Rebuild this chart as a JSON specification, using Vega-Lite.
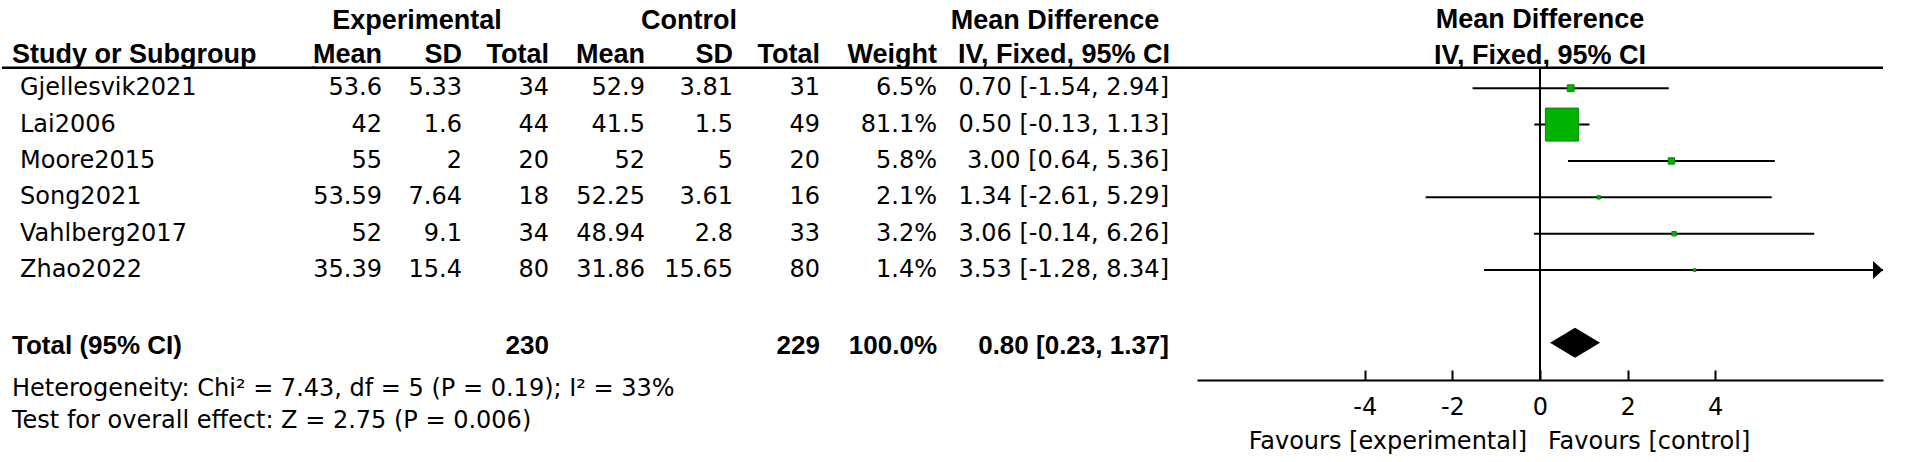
{
  "$schema": "https://vega.github.io/schema/vega-lite/v6.json",
  "padding": 0,
  "background": "white",
  "bounds": "flush",
  "spacing": 0,
  "config": {"view": {"stroke": null}},
  "datasets": {
    "studies": [
      {"row": "Gjellesvik2021", "expMean": 53.6, "expSD": 5.33, "expTotal": 34, "ctrlMean": 52.9, "ctrlSD": 3.81, "ctrlTotal": 31, "weight": 0.065, "md": 0.70, "lo": -1.54, "hi": 2.94, "ci": "0.70 [-1.54, 2.94]"},
      {"row": "Lai2006", "expMean": 42, "expSD": 1.6, "expTotal": 44, "ctrlMean": 41.5, "ctrlSD": 1.5, "ctrlTotal": 49, "weight": 0.811, "md": 0.50, "lo": -0.13, "hi": 1.13, "ci": "0.50 [-0.13, 1.13]"},
      {"row": "Moore2015", "expMean": 55, "expSD": 2, "expTotal": 20, "ctrlMean": 52, "ctrlSD": 5, "ctrlTotal": 20, "weight": 0.058, "md": 3.00, "lo": 0.64, "hi": 5.36, "ci": "3.00 [0.64, 5.36]"},
      {"row": "Song2021", "expMean": 53.59, "expSD": 7.64, "expTotal": 18, "ctrlMean": 52.25, "ctrlSD": 3.61, "ctrlTotal": 16, "weight": 0.021, "md": 1.34, "lo": -2.61, "hi": 5.29, "ci": "1.34 [-2.61, 5.29]"},
      {"row": "Vahlberg2017", "expMean": 52, "expSD": 9.1, "expTotal": 34, "ctrlMean": 48.94, "ctrlSD": 2.8, "ctrlTotal": 33, "weight": 0.032, "md": 3.06, "lo": -0.14, "hi": 6.26, "ci": "3.06 [-0.14, 6.26]"},
      {"row": "Zhao2022", "expMean": 35.39, "expSD": 15.4, "expTotal": 80, "ctrlMean": 31.86, "ctrlSD": 15.65, "ctrlTotal": 80, "weight": 0.014, "md": 3.53, "lo": -1.28, "hi": 8.34, "ci": "3.53 [-1.28, 8.34]"}
    ],
    "total": [
      {"row": "Total", "label": "Total (95% CI)", "expTotal": 230, "ctrlTotal": 229, "weight": 1.0, "md": 0.80, "lo": 0.23, "hi": 1.37, "ci": "0.80 [0.23, 1.37]"}
    ],
    "headers": [
      {"row": "h2", "col": "name", "label": "Study or Subgroup"},
      {"row": "h1", "col": "expSD", "label": "Experimental"},
      {"row": "h2", "col": "expMean", "label": "Mean"},
      {"row": "h2", "col": "expSD", "label": "SD"},
      {"row": "h2", "col": "expTotal", "label": "Total"},
      {"row": "h1", "col": "ctrlSD", "label": "Control"},
      {"row": "h2", "col": "ctrlMean", "label": "Mean"},
      {"row": "h2", "col": "ctrlSD", "label": "SD"},
      {"row": "h2", "col": "ctrlTotal", "label": "Total"},
      {"row": "h2", "col": "weight", "label": "Weight"},
      {"row": "h1", "col": "ci", "label": "Mean Difference"},
      {"row": "h2", "col": "ci", "label": "IV, Fixed, 95% CI"},
      {"row": "h1", "col": "forest", "label": "Mean Difference"},
      {"row": "h2", "col": "forest", "label": "IV, Fixed, 95% CI"}
    ],
    "notes": [
      {"row": "het", "label": "Heterogeneity: Chi² = 7.43, df = 5 (P = 0.19); I² = 33%"},
      {"row": "test", "label": "Test for overall effect: Z = 2.75 (P = 0.006)"}
    ],
    "favours": [
      {"side": "experimental", "label": "Favours [experimental]"},
      {"side": "control", "label": "Favours [control]"}
    ]
  },
  "hconcat": [
    {
      "width": 310, "height": 380,
      "encoding": {"y": {"field": "row", "type": "nominal", "axis": null, "scale": {"type": "point", "domain": ["h1","h2","Gjellesvik2021","Lai2006","Moore2015","Song2021","Vahlberg2017","Zhao2022","gap","Total","het","test"], "range": [15.5, 415.5], "padding": 0}}},
      "layer": [
        {"data": {"name": "headers"}, "transform": [{"filter": "datum.col === 'name' && datum.row === 'h2'"}], "mark": {"type": "rule", "yOffset": 16, "xOffset": 3, "strokeWidth": 2.5, "color": "black"}, "encoding": {"y": {"datum": "h2", "type": "nominal", "axis": null}}},
        {"data": {"name": "headers"}, "transform": [{"filter": "datum.col === 'name' && datum.row === 'h2'"}], "mark": {"type": "text", "align": "left", "baseline": "middle", "font": "Liberation Sans", "fontWeight": "bold", "fontSize": 27, "color": "black", "dx": 10, "dy": 3}, "encoding": {"x": {"value": 0}, "text": {"field": "label"}}},
        {"data": {"name": "studies"}, "mark": {"type": "text", "align": "left", "baseline": "middle", "font": "DejaVu Sans", "fontSize": 24, "color": "black", "dx": 18}, "encoding": {"x": {"value": 0}, "text": {"field": "row"}}},
        {"data": {"name": "total"}, "mark": {"type": "text", "align": "left", "baseline": "middle", "font": "Liberation Sans", "fontWeight": "bold", "fontSize": 26, "color": "black", "dx": 10, "dy": 3}, "encoding": {"x": {"value": 0}, "text": {"field": "label"}}},
        {"data": {"name": "notes"}, "transform": [{"filter": "datum.row === 'het'"}], "mark": {"type": "text", "align": "left", "baseline": "middle", "font": "DejaVu Sans", "fontSize": 24, "color": "black", "dx": 10, "dy": 10}, "encoding": {"x": {"value": 0}, "text": {"field": "label"}}},
        {"data": {"name": "notes"}, "transform": [{"filter": "datum.row === 'test'"}], "mark": {"type": "text", "align": "left", "baseline": "middle", "font": "DejaVu Sans", "fontSize": 24, "color": "black", "dx": 10, "dy": 5}, "encoding": {"x": {"value": 0}, "text": {"field": "label"}}}
      ]
    },
    {
      "width": 70, "height": 380,
      "encoding": {"y": {"field": "row", "type": "nominal", "axis": null, "scale": {"type": "point", "domain": ["h1","h2","Gjellesvik2021","Lai2006","Moore2015","Song2021","Vahlberg2017","Zhao2022","gap","Total","het","test"], "range": [15.5, 415.5], "padding": 0}}},
      "layer": [
        {"data": {"name": "headers"}, "transform": [{"filter": "datum.col === 'expMean' && datum.row === 'h2'"}], "mark": {"type": "rule", "yOffset": 16, "strokeWidth": 2.5, "color": "black"}, "encoding": {"y": {"datum": "h2", "type": "nominal", "axis": null}}},
        {"data": {"name": "headers"}, "transform": [{"filter": "datum.col === 'expMean' && datum.row === 'h2'"}], "mark": {"type": "text", "align": "right", "baseline": "middle", "font": "Liberation Sans", "fontWeight": "bold", "fontSize": 27, "color": "black", "dy": 3}, "encoding": {"x": {"value": "width"}, "text": {"field": "label"}}},
        {"data": {"name": "studies"}, "mark": {"type": "text", "align": "right", "baseline": "middle", "font": "DejaVu Sans", "fontSize": 24, "color": "black"}, "encoding": {"x": {"value": "width"}, "text": {"field": "expMean", "type": "nominal"}}}
      ]
    },
    {
      "width": 80, "height": 380,
      "encoding": {"y": {"field": "row", "type": "nominal", "axis": null, "scale": {"type": "point", "domain": ["h1","h2","Gjellesvik2021","Lai2006","Moore2015","Song2021","Vahlberg2017","Zhao2022","gap","Total","het","test"], "range": [15.5, 415.5], "padding": 0}}},
      "layer": [
        {"data": {"name": "headers"}, "transform": [{"filter": "datum.col === 'expSD' && datum.row === 'h2'"}], "mark": {"type": "rule", "yOffset": 16, "strokeWidth": 2.5, "color": "black"}, "encoding": {"y": {"datum": "h2", "type": "nominal", "axis": null}}},
        {"data": {"name": "headers"}, "transform": [{"filter": "datum.col === 'expSD' && datum.row === 'h1'"}], "mark": {"type": "text", "align": "center", "baseline": "middle", "font": "Liberation Sans", "fontWeight": "bold", "fontSize": 27, "color": "black", "dx": -5, "dy": 5}, "encoding": {"text": {"field": "label"}}},
        {"data": {"name": "headers"}, "transform": [{"filter": "datum.col === 'expSD' && datum.row === 'h2'"}], "mark": {"type": "text", "align": "right", "baseline": "middle", "font": "Liberation Sans", "fontWeight": "bold", "fontSize": 27, "color": "black", "dy": 3}, "encoding": {"x": {"value": "width"}, "text": {"field": "label"}}},
        {"data": {"name": "studies"}, "mark": {"type": "text", "align": "right", "baseline": "middle", "font": "DejaVu Sans", "fontSize": 24, "color": "black"}, "encoding": {"x": {"value": "width"}, "text": {"field": "expSD", "type": "nominal"}}}
      ]
    },
    {
      "width": 87, "height": 380,
      "encoding": {"y": {"field": "row", "type": "nominal", "axis": null, "scale": {"type": "point", "domain": ["h1","h2","Gjellesvik2021","Lai2006","Moore2015","Song2021","Vahlberg2017","Zhao2022","gap","Total","het","test"], "range": [15.5, 415.5], "padding": 0}}},
      "layer": [
        {"data": {"name": "headers"}, "transform": [{"filter": "datum.col === 'expTotal' && datum.row === 'h2'"}], "mark": {"type": "rule", "yOffset": 16, "strokeWidth": 2.5, "color": "black"}, "encoding": {"y": {"datum": "h2", "type": "nominal", "axis": null}}},
        {"data": {"name": "headers"}, "transform": [{"filter": "datum.col === 'expTotal' && datum.row === 'h2'"}], "mark": {"type": "text", "align": "right", "baseline": "middle", "font": "Liberation Sans", "fontWeight": "bold", "fontSize": 27, "color": "black", "dy": 3}, "encoding": {"x": {"value": "width"}, "text": {"field": "label"}}},
        {"data": {"name": "studies"}, "mark": {"type": "text", "align": "right", "baseline": "middle", "font": "DejaVu Sans", "fontSize": 24, "color": "black"}, "encoding": {"x": {"value": "width"}, "text": {"field": "expTotal", "type": "nominal"}}},
        {"data": {"name": "total"}, "mark": {"type": "text", "align": "right", "baseline": "middle", "font": "Liberation Sans", "fontWeight": "bold", "fontSize": 26, "color": "black", "dy": 3}, "encoding": {"x": {"value": "width"}, "text": {"field": "expTotal", "type": "nominal"}}}
      ]
    },
    {
      "width": 96, "height": 380,
      "encoding": {"y": {"field": "row", "type": "nominal", "axis": null, "scale": {"type": "point", "domain": ["h1","h2","Gjellesvik2021","Lai2006","Moore2015","Song2021","Vahlberg2017","Zhao2022","gap","Total","het","test"], "range": [15.5, 415.5], "padding": 0}}},
      "layer": [
        {"data": {"name": "headers"}, "transform": [{"filter": "datum.col === 'ctrlMean' && datum.row === 'h2'"}], "mark": {"type": "rule", "yOffset": 16, "strokeWidth": 2.5, "color": "black"}, "encoding": {"y": {"datum": "h2", "type": "nominal", "axis": null}}},
        {"data": {"name": "headers"}, "transform": [{"filter": "datum.col === 'ctrlMean' && datum.row === 'h2'"}], "mark": {"type": "text", "align": "right", "baseline": "middle", "font": "Liberation Sans", "fontWeight": "bold", "fontSize": 27, "color": "black", "dy": 3}, "encoding": {"x": {"value": "width"}, "text": {"field": "label"}}},
        {"data": {"name": "studies"}, "mark": {"type": "text", "align": "right", "baseline": "middle", "font": "DejaVu Sans", "fontSize": 24, "color": "black"}, "encoding": {"x": {"value": "width"}, "text": {"field": "ctrlMean", "type": "nominal"}}}
      ]
    },
    {
      "width": 88, "height": 380,
      "encoding": {"y": {"field": "row", "type": "nominal", "axis": null, "scale": {"type": "point", "domain": ["h1","h2","Gjellesvik2021","Lai2006","Moore2015","Song2021","Vahlberg2017","Zhao2022","gap","Total","het","test"], "range": [15.5, 415.5], "padding": 0}}},
      "layer": [
        {"data": {"name": "headers"}, "transform": [{"filter": "datum.col === 'ctrlSD' && datum.row === 'h2'"}], "mark": {"type": "rule", "yOffset": 16, "strokeWidth": 2.5, "color": "black"}, "encoding": {"y": {"datum": "h2", "type": "nominal", "axis": null}}},
        {"data": {"name": "headers"}, "transform": [{"filter": "datum.col === 'ctrlSD' && datum.row === 'h1'"}], "mark": {"type": "text", "align": "center", "baseline": "middle", "font": "Liberation Sans", "fontWeight": "bold", "fontSize": 27, "color": "black", "dy": 5}, "encoding": {"text": {"field": "label"}}},
        {"data": {"name": "headers"}, "transform": [{"filter": "datum.col === 'ctrlSD' && datum.row === 'h2'"}], "mark": {"type": "text", "align": "right", "baseline": "middle", "font": "Liberation Sans", "fontWeight": "bold", "fontSize": 27, "color": "black", "dy": 3}, "encoding": {"x": {"value": "width"}, "text": {"field": "label"}}},
        {"data": {"name": "studies"}, "mark": {"type": "text", "align": "right", "baseline": "middle", "font": "DejaVu Sans", "fontSize": 24, "color": "black"}, "encoding": {"x": {"value": "width"}, "text": {"field": "ctrlSD", "type": "nominal"}}}
      ]
    },
    {
      "width": 87, "height": 380,
      "encoding": {"y": {"field": "row", "type": "nominal", "axis": null, "scale": {"type": "point", "domain": ["h1","h2","Gjellesvik2021","Lai2006","Moore2015","Song2021","Vahlberg2017","Zhao2022","gap","Total","het","test"], "range": [15.5, 415.5], "padding": 0}}},
      "layer": [
        {"data": {"name": "headers"}, "transform": [{"filter": "datum.col === 'ctrlTotal' && datum.row === 'h2'"}], "mark": {"type": "rule", "yOffset": 16, "strokeWidth": 2.5, "color": "black"}, "encoding": {"y": {"datum": "h2", "type": "nominal", "axis": null}}},
        {"data": {"name": "headers"}, "transform": [{"filter": "datum.col === 'ctrlTotal' && datum.row === 'h2'"}], "mark": {"type": "text", "align": "right", "baseline": "middle", "font": "Liberation Sans", "fontWeight": "bold", "fontSize": 27, "color": "black", "dy": 3}, "encoding": {"x": {"value": "width"}, "text": {"field": "label"}}},
        {"data": {"name": "studies"}, "mark": {"type": "text", "align": "right", "baseline": "middle", "font": "DejaVu Sans", "fontSize": 24, "color": "black"}, "encoding": {"x": {"value": "width"}, "text": {"field": "ctrlTotal", "type": "nominal"}}},
        {"data": {"name": "total"}, "mark": {"type": "text", "align": "right", "baseline": "middle", "font": "Liberation Sans", "fontWeight": "bold", "fontSize": 26, "color": "black", "dy": 3}, "encoding": {"x": {"value": "width"}, "text": {"field": "ctrlTotal", "type": "nominal"}}}
      ]
    },
    {
      "width": 117, "height": 380,
      "encoding": {"y": {"field": "row", "type": "nominal", "axis": null, "scale": {"type": "point", "domain": ["h1","h2","Gjellesvik2021","Lai2006","Moore2015","Song2021","Vahlberg2017","Zhao2022","gap","Total","het","test"], "range": [15.5, 415.5], "padding": 0}}},
      "layer": [
        {"data": {"name": "headers"}, "transform": [{"filter": "datum.col === 'weight' && datum.row === 'h2'"}], "mark": {"type": "rule", "yOffset": 16, "strokeWidth": 2.5, "color": "black"}, "encoding": {"y": {"datum": "h2", "type": "nominal", "axis": null}}},
        {"data": {"name": "headers"}, "transform": [{"filter": "datum.col === 'weight' && datum.row === 'h2'"}], "mark": {"type": "text", "align": "right", "baseline": "middle", "font": "Liberation Sans", "fontWeight": "bold", "fontSize": 27, "color": "black", "dy": 3}, "encoding": {"x": {"value": "width"}, "text": {"field": "label"}}},
        {"data": {"name": "studies"}, "mark": {"type": "text", "align": "right", "baseline": "middle", "font": "DejaVu Sans", "fontSize": 24, "color": "black"}, "encoding": {"x": {"value": "width"}, "text": {"field": "weight", "type": "quantitative", "format": ".1%"}}},
        {"data": {"name": "total"}, "mark": {"type": "text", "align": "right", "baseline": "middle", "font": "Liberation Sans", "fontWeight": "bold", "fontSize": 26, "color": "black", "dy": 3}, "encoding": {"x": {"value": "width"}, "text": {"field": "weight", "type": "quantitative", "format": ".1%"}}}
      ]
    },
    {
      "width": 260, "height": 380,
      "encoding": {"y": {"field": "row", "type": "nominal", "axis": null, "scale": {"type": "point", "domain": ["h1","h2","Gjellesvik2021","Lai2006","Moore2015","Song2021","Vahlberg2017","Zhao2022","gap","Total","het","test"], "range": [15.5, 415.5], "padding": 0}}},
      "layer": [
        {"data": {"name": "headers"}, "transform": [{"filter": "datum.col === 'ci' && datum.row === 'h2'"}], "mark": {"type": "rule", "yOffset": 16, "strokeWidth": 2.5, "color": "black"}, "encoding": {"y": {"datum": "h2", "type": "nominal", "axis": null}}},
        {"data": {"name": "headers"}, "transform": [{"filter": "datum.col === 'ci' && datum.row === 'h1'"}], "mark": {"type": "text", "align": "center", "baseline": "middle", "font": "Liberation Sans", "fontWeight": "bold", "fontSize": 27, "color": "black", "dx": -12, "dy": 5}, "encoding": {"text": {"field": "label"}}},
        {"data": {"name": "headers"}, "transform": [{"filter": "datum.col === 'ci' && datum.row === 'h2'"}], "mark": {"type": "text", "align": "right", "baseline": "middle", "font": "Liberation Sans", "fontWeight": "bold", "fontSize": 27, "color": "black", "dx": -27, "dy": 3}, "encoding": {"x": {"value": "width"}, "text": {"field": "label"}}},
        {"data": {"name": "studies"}, "mark": {"type": "text", "align": "right", "baseline": "middle", "font": "DejaVu Sans", "fontSize": 24, "color": "black", "dx": -28}, "encoding": {"x": {"value": "width"}, "text": {"field": "ci"}}},
        {"data": {"name": "total"}, "mark": {"type": "text", "align": "right", "baseline": "middle", "font": "Liberation Sans", "fontWeight": "bold", "fontSize": 26, "color": "black", "dx": -28, "dy": 3}, "encoding": {"x": {"value": "width"}, "text": {"field": "ci"}}}
      ]
    },
    {
      "width": 686, "height": 380,
      "encoding": {"y": {"field": "row", "type": "nominal", "axis": null, "scale": {"type": "point", "domain": ["h1","h2","Gjellesvik2021","Lai2006","Moore2015","Song2021","Vahlberg2017","Zhao2022","gap","Total","het","test"], "range": [15.5, 415.5], "padding": 0}}},
      "layer": [
        {"data": {"name": "headers"}, "transform": [{"filter": "datum.col === 'forest' && datum.row === 'h2'"}], "mark": {"type": "rule", "yOffset": 16, "x2Offset": 24, "strokeWidth": 2.5, "color": "black"}, "encoding": {"y": {"datum": "h2", "type": "nominal", "axis": null}}},
        {"data": {"name": "headers"}, "transform": [{"filter": "datum.col === 'forest' && datum.row === 'h2'"}], "mark": {"type": "rule", "yOffset": 16, "strokeWidth": 2, "color": "black"},
         "encoding": {
           "x": {"datum": 0, "type": "quantitative", "scale": {"type": "linear", "domain": [-7.83, 7.83], "clamp": true, "nice": false, "zero": false}, "axis": {"values": [-4, -2, 0, 2, 4], "labelExpr": "'' + datum.value", "title": null, "grid": false, "domainColor": "black", "domainWidth": 2, "tickColor": "black", "tickWidth": 2, "tickSize": -10, "labelFont": "DejaVu Sans", "labelFontSize": 24, "labelColor": "black", "labelPadding": 25, "labelFlush": false, "labelOverlap": false, "labelBound": false}},
           "y": {"datum": "h2", "type": "nominal", "axis": null},
           "y2": {"value": "height"}
         }},
        {"data": {"name": "studies"}, "mark": {"type": "rule", "strokeWidth": 2, "color": "black"},
         "encoding": {
           "x": {"field": "lo", "type": "quantitative", "scale": {"type": "linear", "domain": [-7.83, 7.83], "clamp": true, "nice": false, "zero": false}, "axis": {"values": [-4, -2, 0, 2, 4], "labelExpr": "'' + datum.value", "title": null, "grid": false, "domainColor": "black", "domainWidth": 2, "tickColor": "black", "tickWidth": 2, "tickSize": -10, "labelFont": "DejaVu Sans", "labelFontSize": 24, "labelColor": "black", "labelPadding": 25, "labelFlush": false, "labelOverlap": false, "labelBound": false}},
           "x2": {"field": "hi"}
         }},
        {"data": {"name": "studies"}, "mark": {"type": "square", "filled": true, "color": "#00b300", "stroke": "#008a00", "strokeWidth": 1, "opacity": 1},
         "encoding": {
           "x": {"field": "md", "type": "quantitative", "scale": {"type": "linear", "domain": [-7.83, 7.83], "clamp": true, "nice": false, "zero": false}, "axis": {"values": [-4, -2, 0, 2, 4], "labelExpr": "'' + datum.value", "title": null, "grid": false, "domainColor": "black", "domainWidth": 2, "tickColor": "black", "tickWidth": 2, "tickSize": -10, "labelFont": "DejaVu Sans", "labelFontSize": 24, "labelColor": "black", "labelPadding": 25, "labelFlush": false, "labelOverlap": false, "labelBound": false}},
           "size": {"field": "weight", "type": "quantitative", "scale": {"type": "pow", "exponent": 1.25, "domain": [0, 0.811], "range": [0, 1089]}, "legend": null}
         }},
        {"data": {"name": "studies"}, "transform": [{"filter": "datum.hi > 7.83"}], "mark": {"type": "point", "shape": "M -2 -1.8 L 0 0 L -2 1.8 Z", "filled": true, "color": "black", "size": 100, "opacity": 1},
         "encoding": {
           "x": {"field": "hi", "type": "quantitative", "scale": {"type": "linear", "domain": [-7.83, 7.83], "clamp": true, "nice": false, "zero": false}, "axis": {"values": [-4, -2, 0, 2, 4], "labelExpr": "'' + datum.value", "title": null, "grid": false, "domainColor": "black", "domainWidth": 2, "tickColor": "black", "tickWidth": 2, "tickSize": -10, "labelFont": "DejaVu Sans", "labelFontSize": 24, "labelColor": "black", "labelPadding": 25, "labelFlush": false, "labelOverlap": false, "labelBound": false}}
         }},
        {"data": {"name": "total"}, "mark": {"type": "point", "shape": "M -1 0 L 0 -0.6 L 1 0 L 0 0.6 Z", "filled": true, "color": "black", "size": 2500, "opacity": 1},
         "encoding": {
           "x": {"field": "md", "type": "quantitative", "scale": {"type": "linear", "domain": [-7.83, 7.83], "clamp": true, "nice": false, "zero": false}, "axis": {"values": [-4, -2, 0, 2, 4], "labelExpr": "'' + datum.value", "title": null, "grid": false, "domainColor": "black", "domainWidth": 2, "tickColor": "black", "tickWidth": 2, "tickSize": -10, "labelFont": "DejaVu Sans", "labelFontSize": 24, "labelColor": "black", "labelPadding": 25, "labelFlush": false, "labelOverlap": false, "labelBound": false}}
         }},
        {"data": {"name": "headers"}, "transform": [{"filter": "datum.col === 'forest'"}], "mark": {"type": "text", "align": "center", "baseline": "middle", "font": "Liberation Sans", "fontWeight": "bold", "fontSize": 27, "color": "black", "dy": 4},
         "encoding": {
           "x": {"datum": 0, "type": "quantitative", "scale": {"type": "linear", "domain": [-7.83, 7.83], "clamp": true, "nice": false, "zero": false}, "axis": {"values": [-4, -2, 0, 2, 4], "labelExpr": "'' + datum.value", "title": null, "grid": false, "domainColor": "black", "domainWidth": 2, "tickColor": "black", "tickWidth": 2, "tickSize": -10, "labelFont": "DejaVu Sans", "labelFontSize": 24, "labelColor": "black", "labelPadding": 25, "labelFlush": false, "labelOverlap": false, "labelBound": false}},
           "text": {"field": "label"}
         }},
        {"data": {"name": "favours"}, "transform": [{"filter": "datum.side === 'experimental'"}], "mark": {"type": "text", "align": "right", "baseline": "middle", "font": "DejaVu Sans", "fontSize": 24, "color": "black", "dx": -13, "dy": 26},
         "encoding": {
           "x": {"datum": 0, "type": "quantitative", "scale": {"type": "linear", "domain": [-7.83, 7.83], "clamp": true, "nice": false, "zero": false}, "axis": {"values": [-4, -2, 0, 2, 4], "labelExpr": "'' + datum.value", "title": null, "grid": false, "domainColor": "black", "domainWidth": 2, "tickColor": "black", "tickWidth": 2, "tickSize": -10, "labelFont": "DejaVu Sans", "labelFontSize": 24, "labelColor": "black", "labelPadding": 25, "labelFlush": false, "labelOverlap": false, "labelBound": false}},
           "y": {"datum": "test", "type": "nominal", "axis": null},
           "text": {"field": "label"}
         }},
        {"data": {"name": "favours"}, "transform": [{"filter": "datum.side === 'control'"}], "mark": {"type": "text", "align": "left", "baseline": "middle", "font": "DejaVu Sans", "fontSize": 24, "color": "black", "dx": 8, "dy": 26},
         "encoding": {
           "x": {"datum": 0, "type": "quantitative", "scale": {"type": "linear", "domain": [-7.83, 7.83], "clamp": true, "nice": false, "zero": false}, "axis": {"values": [-4, -2, 0, 2, 4], "labelExpr": "'' + datum.value", "title": null, "grid": false, "domainColor": "black", "domainWidth": 2, "tickColor": "black", "tickWidth": 2, "tickSize": -10, "labelFont": "DejaVu Sans", "labelFontSize": 24, "labelColor": "black", "labelPadding": 25, "labelFlush": false, "labelOverlap": false, "labelBound": false}},
           "y": {"datum": "test", "type": "nominal", "axis": null},
           "text": {"field": "label"}
         }}
      ]
    }
  ]
}
